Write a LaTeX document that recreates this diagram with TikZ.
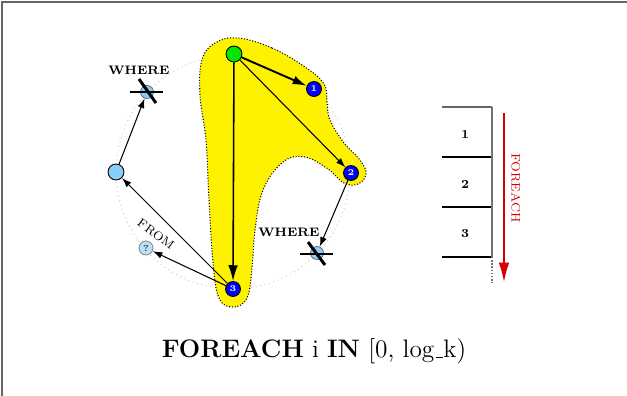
\documentclass[tikz,border=0pt]{standalone}
\usetikzlibrary{arrows.meta}
\definecolor{gnodec}{RGB}{0,230,0}
\definecolor{lbc}{RGB}{135,206,250}
\definecolor{qc}{RGB}{185,225,250}
\definecolor{redc}{RGB}{215,0,0}
\tikzset{
  blob/.style={fill=yellow, draw=black, densely dotted, line width=0.6pt},
  ring/.style={draw=black!18, dotted, line width=0.6pt},
  bnode/.style={circle, fill=blue, draw=black, line width=0.5pt, minimum size=0.3cm, inner sep=0pt, text=white, font=\tiny\bfseries},
  gnode/.style={circle, fill=gnodec, draw=black, line width=0.5pt, minimum size=0.32cm, inner sep=0pt},
  lbnode/.style={circle, fill=lbc, draw=black, line width=0.5pt, minimum size=0.32cm, inner sep=0pt},
  wnode/.style={circle, fill=lbc, draw=black!60, line width=0.4pt, minimum size=0.26cm, inner sep=0pt},
  qnode/.style={circle, fill=qc, draw=black!45, line width=0.5pt, minimum size=0.28cm, inner sep=0pt, font=\tiny\bfseries, text=black!75},
  bigarrow/.style={line width=1.1pt, -{Latex[length=8pt,width=5pt]}},
  midarrow/.style={line width=0.9pt, -{Latex[length=9pt,width=5.5pt]}},
  thinarrow/.style={line width=0.6pt, -{Latex[length=5.5pt,width=3.8pt]}},
  crossbar/.style={line width=1.7pt},
  whr/.style={font=\scriptsize\bfseries},
  tabline/.style={line width=0.6pt},
}
\newcommand{\myus}{\leavevmode\kern.06em\vbox{\hrule width.3em}}
\begin{document}
\begin{tikzpicture}[x=0.02cm,y=-0.02cm]
\useasboundingbox (0,0) rectangle (627,396);
\draw[black!60, line width=0.8pt] (2,396) -- (2,2) -- (627,2);

% dotted ring
\draw[ring] (233,172) circle[radius=117];

% yellow blob
\draw[blob] plot[smooth cycle, tension=0.65] coordinates {
  (238,38) (272,48) (305,67) (324,84) (327,102) (330,120) (344,143)
  (360,160) (366,174) (358,184) (344,183) (328,169) (305,157) (283,162)
  (263,190) (255,230) (252,268) (247,298) (233,307) (219,298) (213,262)
  (209,200) (206,140) (200,95) (202,60) (215,43)};

% nodes
\node[gnode] (g) at (234,54) {};
\node[bnode] (n1) at (314,89) {1};
\node[bnode] (n2) at (351,173) {2};
\node[bnode] (n3) at (233,289) {3};
\node[lbnode] (lb) at (116,172) {};
\node[qnode] (q) at (146,248) {?};
\node[wnode] (w1) at (147,92) {};
\node[wnode] (w2) at (317,253) {};

% crosses
\coordinate (w1a) at (130,92);
\coordinate (w1b) at (163,92);
\coordinate (w1c) at (139,79);
\coordinate (w1d) at (156,103);
\coordinate (w2a) at (300,254);
\coordinate (w2b) at (333,254);
\coordinate (w2c) at (308,242);
\coordinate (w2d) at (325,265);
\draw[crossbar] (w1a) -- (w1b);
\draw[crossbar] (w1c) -- (w1d);
\draw[crossbar] (w2a) -- (w2b);
\draw[crossbar] (w2c) -- (w2d);

\node[whr] (lw1) at (139,70) {WHERE};
\node[whr] (lw2) at (289,232) {WHERE};

% arrows
\draw[bigarrow] (g) -- (n1);
\draw[thinarrow] (g) -- (n2);
\draw[midarrow] (g) -- (n3);
\draw[thinarrow] (n2) -- (w2);
\draw[thinarrow] (n3) -- (lb);
\draw[thinarrow] (n3) -- (q);
\draw[thinarrow] (lb) -- (w1);
\node[font=\scriptsize, rotate=-36] (from) at (156,234) {FROM};

% table
\coordinate (t0) at (442,107);
\coordinate (t1) at (442,157);
\coordinate (t2) at (442,207);
\coordinate (t3) at (442,257);
\coordinate (v0) at (492,107);
\coordinate (v1) at (492,157);
\coordinate (v2) at (492,207);
\coordinate (v3) at (492,257);
\coordinate (v4) at (492,283);
\draw[tabline, black!60] (t0) -- (v0);
\draw[tabline] (t1) -- (v1);
\draw[tabline] (t2) -- (v2);
\draw[tabline] (t3) -- (v3);
\draw[black!55, line width=1.1pt] (v0) -- (v3);
\draw[black!55, line width=0.8pt, densely dotted] (v3) -- (v4);
\node[font=\scriptsize\bfseries] (c1) at (465,134) {1};
\node[font=\scriptsize\bfseries] (c2) at (465,184) {2};
\node[font=\scriptsize\bfseries] (c3) at (465,234) {3};

% red foreach arrow
\coordinate (r0) at (504,113);
\coordinate (r1) at (504,282);
\draw[redc, line width=0.8pt, -{Latex[length=11pt,width=6pt]}] (r0) -- (r1);
\node[text=redc, font=\scriptsize, rotate=-90] (fe) at (516,188) {FOREACH};

% title
\node[font=\Large] (title) at (314,351) {\textbf{FOREACH} i \textbf{IN} [0, log\myus k)};
\end{tikzpicture}
\end{document}
